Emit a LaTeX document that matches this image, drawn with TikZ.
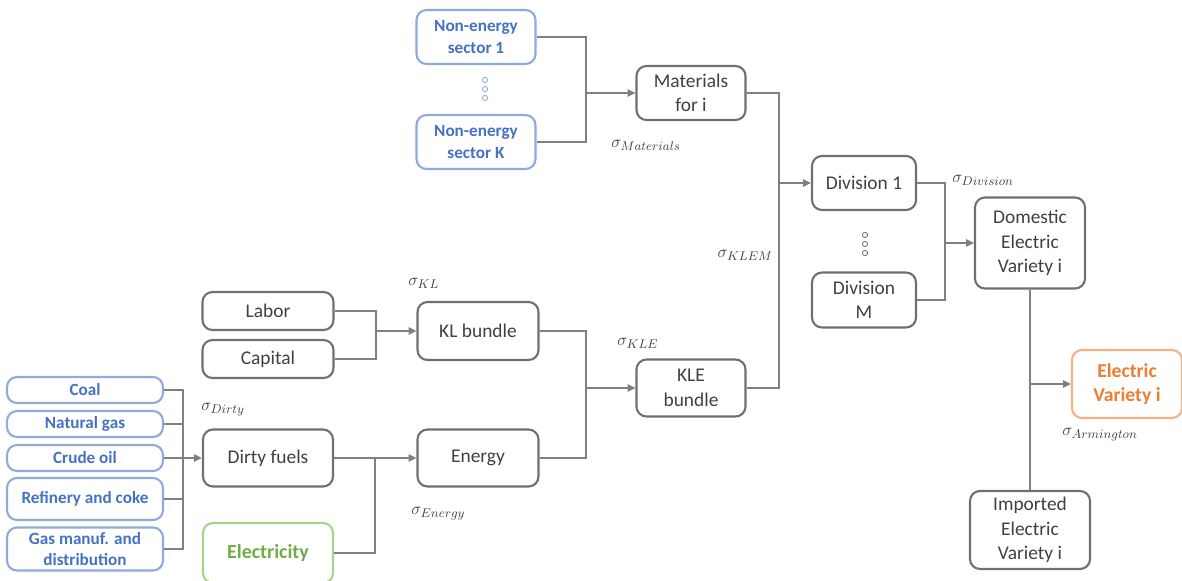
\documentclass[tikz,border=0pt]{standalone}
\usepackage{fontspec}
\setmainfont{Carlito}
\usepackage{tikz}
\usetikzlibrary{arrows.meta, positioning}
\definecolor{boxgray}{RGB}{112, 112, 112}
\definecolor{txtgray}{RGB}{64, 64, 64}
\definecolor{linegray}{RGB}{128, 128, 128}
\definecolor{secblue}{RGB}{143, 170, 220}
\definecolor{secbluetxt}{RGB}{68, 114, 196}
\definecolor{elgreen}{RGB}{169, 209, 142}
\definecolor{elgreentxt}{RGB}{112, 173, 71}
\definecolor{varorange}{RGB}{244, 177, 131}
\definecolor{varorangetxt}{RGB}{237, 125, 49}
\tikzset{
  nestbox/.style={rounded corners=0.25cm, draw=boxgray, line width=1.5pt, fill=white, inner sep=0pt, align=center, text=txtgray, font=\fontsize{13.8}{17.4}\selectfont},
  inputbox/.style={nestbox, draw=secblue, text=secbluetxt, font=\fontsize{12.2}{15}\selectfont\bfseries},
  elecbox/.style={nestbox, draw=elgreen, text=elgreentxt, font=\fontsize{14.2}{17}\selectfont\bfseries},
  varbox/.style={nestbox, draw=varorange, text=varorangetxt, font=\fontsize{14}{17.4}\selectfont\bfseries},
  sigmalab/.style={text=txtgray, inner sep=0pt, anchor=west, font=\fontsize{12.8}{15}\selectfont},
  link/.style={draw=linegray, line width=1.3pt},
  feed/.style={link, -{Triangle[length=5.5pt, width=5pt]}},
  vdot/.style={draw=#1, line width=0.6pt, fill=white},
}

\begin{document}
\begin{tikzpicture}[x=0.025cm, y=-0.025cm]
  \clip (0,0) rectangle (1182,580);
  % materials branch
  \node[inputbox, minimum width=2.975cm, minimum height=1.35cm] (sec1) at (476,37) {Non-energy\\sector 1};
  \node[inputbox, minimum width=2.975cm, minimum height=1.35cm] (secK) at (476,142) {Non-energy\\sector K};
  \node[nestbox, minimum width=2.725cm, minimum height=1.35cm] (mat) at (691,93) {Materials\\for i};
  \foreach \y in {80,89,98} \draw[vdot=secblue] (485,\y) circle (2.6);
  % divisions and varieties
  \node[nestbox, minimum width=2.6cm, minimum height=1.35cm] (div1) at (864,183) {Division 1};
  \node[nestbox, minimum width=2.6cm, minimum height=1.375cm] (divM) at (864,300) {Division\\M};
  \foreach \y in {235,244,253} \draw[vdot=boxgray] (865,\y) circle (2.6);
  \node[nestbox, minimum width=2.75cm, minimum height=2.275cm] (dom) at (1030,243) {Domestic\\Electric\\Variety i};
  \node[varbox, minimum width=2.75cm, minimum height=1.7cm] (elvar) at (1127,384) {Electric\\Variety i};
  \node[nestbox, minimum width=3cm, minimum height=1.95cm] (imp) at (1030,530) {Imported\\Electric\\Variety i};
  % KLE branch
  \node[nestbox, minimum width=3.275cm, minimum height=0.95cm] (labor) at (268,311) {Labor};
  \node[nestbox, minimum width=3.275cm, minimum height=0.95cm] (capital) at (268,359) {Capital};
  \node[nestbox, minimum width=3.025cm, minimum height=1.45cm] (kl) at (478,331) {KL bundle};
  \node[nestbox, minimum width=2.725cm, minimum height=1.425cm] (kle) at (691,388) {KLE\\bundle};
  % energy branch
  \node[inputbox, minimum width=3.9cm, minimum height=0.65cm] (coal) at (85,390) {Coal};
  \node[inputbox, minimum width=3.9cm, minimum height=0.65cm] (ngas) at (85,424) {Natural gas};
  \node[inputbox, minimum width=3.9cm, minimum height=0.65cm] (crude) at (85,458) {Crude oil};
  \node[inputbox, minimum width=3.9cm, minimum height=1.05cm] (refin) at (85,499) {Refinery and coke};
  \node[inputbox, minimum width=3.9cm, minimum height=1.075cm] (gasdist) at (85,549) {Gas manuf. and\\distribution};
  \node[nestbox, minimum width=3.25cm, minimum height=1.425cm] (dirty) at (268,458) {Dirty fuels};
  \node[elecbox, minimum width=3.25cm, minimum height=1.5cm] (elec) at (268,553) {Electricity};
  \node[nestbox, minimum width=3.025cm, minimum height=1.425cm] (energy) at (478,458) {Energy};

  % elasticities
  \node[sigmalab] (smat) at (611,145) {$\sigma_{Materials}$};
  \node[sigmalab] (skl) at (408,283) {$\sigma_{KL}$};
  \node[sigmalab] (skle) at (617,343) {$\sigma_{KLE}$};
  \node[sigmalab, anchor=east] (sklem) at (773,255) {$\sigma_{KLEM}$};
  \node[sigmalab] (sdiv) at (952,180) {$\sigma_{Division}$};
  \node[sigmalab] (sdirty) at (201,410) {$\sigma_{Dirty}$};
  \node[sigmalab] (senergy) at (411,514) {$\sigma_{Energy}$};
  \node[sigmalab] (sarm) at (1062,435) {$\sigma_{Armington}$};

  % junctions
  \coordinate (jmat) at (586,93);
  \coordinate (jklem) at (779,183);
  \coordinate (jdiv) at (945,243);
  \coordinate (jarm) at (1030,384);
  \coordinate (jkl) at (376,331);
  \coordinate (jkle) at (586,388);
  \coordinate (jdirty) at (183,458);
  \coordinate (jen) at (375,458);

  % connectors
  \draw[link] (sec1.east) -| (jmat) |- (secK.east);
  \draw[feed] (jmat) -- (mat.west);
  \draw[link] (mat.east) -| (jklem) |- (kle.east);
  \draw[feed] (jklem) -- (div1.west);
  \draw[link] (div1.east) -| (jdiv) |- (divM.east);
  \draw[feed] (jdiv) -- (dom.west);
  \draw[link] (dom.south) -- (imp.north);
  \draw[feed] (jarm) -- (elvar.west);
  \draw[link] (labor.east) -| (jkl) |- (capital.east);
  \draw[feed] (jkl) -- (kl.west);
  \draw[link] (kl.east) -| (jkle) |- (energy.east);
  \draw[feed] (jkle) -- (kle.west);
  \foreach \f in {coal,ngas,refin,gasdist} \draw[link] (\f.east) -| (jdirty);
  \draw[feed] (crude.east) -- (dirty.west);
  \draw[link] (elec.east) -| (jen);
  \draw[feed] (dirty.east) -- (energy.west);
\end{tikzpicture}
\end{document}
